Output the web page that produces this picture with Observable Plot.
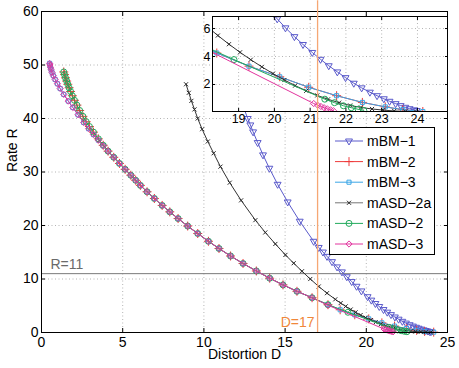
<!DOCTYPE html>
<html><head><meta charset="utf-8">
<script src="https://cdn.jsdelivr.net/npm/d3@7"></script>
<script src="https://cdn.jsdelivr.net/npm/@observablehq/plot@0.6"></script>
<style>
body{margin:0;background:#fff;}
#wrap{position:relative;width:459px;height:368px;overflow:hidden;font-family:"Liberation Sans",Arial,sans-serif;}
#wrap > svg{position:absolute;}
</style>
</head><body><div id="wrap"></div>
<script>
// ---------- data ----------
const seriesNames  = ["mBM\u22121","mBM\u22122","mBM\u22123","mASD\u22122a","mASD\u22122","mASD\u22123"];
const seriesColors = ["#5a5acb","#ee3a3a","#3aa6e6","#2a2a2a","#22aa5c","#e2349e"];
const seriesSymbols = ["triangle2","plus","square2","times","circle","diamond2"];
const seriesSizes = [3.3, 3, 2.6, 2, 3, 2.8];

const xTicks = [0,5,10,15,20,25];
const yTicks = [0,10,20,30,40,50,60];
const insetXTicks = [19,20,21,22,23,24];
const insetYTicks = [2,4,6];
const refR = 11, refD = 17;

const mBM1_D = [12.45,12.7,12.86,13.03,13.31,13.64,14.03,14.54,15.16,15.9,16.76,17.07,17.33,17.58,17.89,18.2,18.5,18.8,19.1,19.4,19.7,20.08,20.31,20.56,20.8,21.06,21.29,21.52,21.76,21.99,22.22,22.44,22.67,22.87,23.06,23.22,23.39,23.53,23.66,23.78,23.9,23.98];
const mBM1_R = [42.0,40.0,38.8,37.5,35.5,33.2,30.7,27.7,24.4,20.8,17.05,15.9,15.04,14.23,13.24,12.26,11.33,10.42,9.52,8.64,7.77,6.69,6.05,5.42,4.86,4.29,3.8,3.34,2.9,2.49,2.09,1.76,1.45,1.2,0.98,0.8,0.63,0.49,0.37,0.27,0.19,0.14];

const mASD2a_D = [8.9,9.07,9.23,9.42,9.62,9.89,10.24,10.6,11.02,11.59,12.29,13.17,13.78,14.4,15.02,15.53,16.04,16.55,17.07,17.58,18.09,18.42,18.73,19.04,19.34,19.65,19.96,20.28,20.58,20.89,21.2,21.5,21.81,22.12,22.42,22.73,23.04,23.35,23.66,23.97];
const mASD2a_R = [46.4,44.8,43.3,41.7,40.0,38.0,35.7,33.5,31.0,28.0,24.7,21.0,18.7,16.55,14.5,12.95,11.45,10.0,8.6,7.35,6.2,5.5,4.88,4.3,3.77,3.26,2.78,2.32,1.92,1.55,1.22,0.94,0.7,0.5,0.36,0.25,0.17,0.11,0.07,0.04];

// head of mBM-3 / mASD-3
const headA_D = [0.5,0.52,0.55,0.59,0.65,0.73,0.84,0.98,1.15,1.37,1.65,1.93,2.25,2.6,2.9,3.2,3.5,3.8];
const headA_R = [50.3,50.0,49.6,49.15,48.6,48.0,47.3,46.5,45.6,44.5,43.25,42.05,40.7,39.25,38.1,37.0,35.95,34.9];
// head of mBM-2 / mASD-2
const headB_D = [1.37,1.42,1.48,1.55,1.62,1.7,1.79,1.9,2.03,2.18,2.35,2.55,2.75,2.95,3.2,3.5,3.8];
const headB_R = [48.7,48.2,47.6,47.0,46.4,45.75,45.05,44.25,43.4,42.5,41.5,40.4,39.4,38.5,37.45,36.2,35.0];
// shared middle part
const common_D = [4.1,4.45,4.8,5.15,5.5,5.8,6.09,6.5,6.95,7.43,7.9,8.41,9.0,9.62,10.28,10.93,11.64,12.41,13.23,14.05,14.87,15.73,16.66];
const common_R = [33.9,32.75,31.6,30.5,29.4,28.45,27.5,26.3,25.05,23.75,22.55,21.3,19.9,18.5,17.05,15.7,14.3,12.9,11.5,10.15,8.9,7.7,6.5];
// tails
const tailBM_D = [17.64,18.39,19.29,20.15,20.96,21.74,22.46,23.1,23.59,24.15];
const tailBM_R = [5.2,4.25,3.31,2.55,1.8,1.2,0.72,0.4,0.2,0.07];
const tailASD2_D = [17.64,18.87,21.41,21.68,21.93,22.15,22.34,22.5];
const tailASD2_R = [5.2,3.78,0.95,0.7,0.48,0.34,0.23,0.15];
const tailASD3_D = [17.64,21.1,21.21,21.3,21.39,21.48,21.57,21.65];
const tailASD3_R = [5.1,0.64,0.52,0.43,0.34,0.26,0.19,0.13];

// ---------- build ----------
const rows = (D, R) => D.map((d, i) => ({D: d, R: R[i]}));
const series = [
  rows(mBM1_D, mBM1_R),
  rows([...headB_D, ...common_D, ...tailBM_D], [...headB_R, ...common_R, ...tailBM_R]),
  rows([...headA_D, ...common_D, ...tailBM_D], [...headA_R, ...common_R, ...tailBM_R]),
  rows(mASD2a_D, mASD2a_R),
  rows([...headB_D, ...common_D, ...tailASD2_D], [...headB_R, ...common_R, ...tailASD2_R]),
  rows([...headA_D, ...common_D, ...tailASD3_D], [...headA_R, ...common_R, ...tailASD3_R])
];

function seriesMarks(clip) {
  const out = [];
  series.forEach((data, i) => {
    out.push(Plot.line(data, {x: "D", y: "R", stroke: i === 3 ? "#333" : seriesColors[i], strokeWidth: 1, clip}));
    out.push(Plot.dot(data, {x: "D", y: "R", symbol: seriesSymbols[i], r: seriesSizes[i],
      stroke: seriesColors[i], fill: "none", strokeWidth: 1, rotate: i === 0 ? 180 : 0, clip}));
  });
  return out;
}

const FONT = '"Liberation Sans", Arial, Helvetica, sans-serif';
const gridStyle = {stroke: "#b4b4b4", strokeOpacity: 1, strokeDasharray: "1,2.5", strokeWidth: 1};

const main = Plot.plot({
  width: 459, height: 368,
  marginLeft: 41, marginRight: 12, marginTop: 11, marginBottom: 36,
  x: {domain: [0, 25], label: null},
  y: {domain: [0, 60], label: null},
  style: {fontFamily: FONT, fontSize: "14px", color: "black", background: "white"},
  marks: [
    Plot.gridX(xTicks.slice(1, -1), gridStyle),
    Plot.gridY(yTicks.slice(1, -1), gridStyle),
    Plot.ruleY([refR], {stroke: "#7a7a7a", strokeWidth: 1}),
    Plot.text([`R=${refR}`], {x: () => 0.55, y: () => refR, dy: -9, textAnchor: "start", fill: "#6a6a6a", fontSize: 14}),
    Plot.text([`D=${refD}`], {x: () => refD, y: () => 0, dx: -3, dy: -10, textAnchor: "end", fill: "#f0873a", fontSize: 14}),
    ...seriesMarks(false),
    Plot.axisX(xTicks, {anchor: "bottom", tickSize: -4, tickPadding: 9, label: null, fontSize: 14}),
    Plot.axisX(xTicks, {anchor: "top", tickSize: -4, tickFormat: () => "", label: null}),
    Plot.axisY(yTicks, {anchor: "left", tickSize: -4, tickPadding: 7, label: null, fontSize: 14}),
    Plot.axisY(yTicks, {anchor: "right", tickSize: -4, tickFormat: () => "", label: null}),
    Plot.frame({stroke: "black", strokeWidth: 1}),
    Plot.text(["Distortion D"], {frameAnchor: "bottom", dy: 26, fontSize: 14}),
    Plot.text(["Rate R"], {frameAnchor: "left", rotate: -90, dx: -29, fontSize: 14})
  ]
});
main.style.left = "0px"; main.style.top = "0px";

const inset = Plot.plot({
  width: 256, height: 113,
  marginLeft: 20, marginRight: 1, marginTop: 0, marginBottom: 18,
  x: {domain: [18.27, 24.84], label: null},
  y: {domain: [0.07, 6.86], label: null},
  style: {fontFamily: FONT, fontSize: "12.5px", color: "black", background: "transparent", overflow: "visible"},
  marks: [
    Plot.frame({fill: "white"}),
    Plot.gridX(insetXTicks, gridStyle),
    Plot.gridY(insetYTicks, gridStyle),
    ...seriesMarks(true),
    Plot.axisX(insetXTicks, {anchor: "bottom", tickSize: -3, tickPadding: 6, label: null, fontSize: 12.5}),
    Plot.axisX(insetXTicks, {anchor: "top", tickSize: -3, tickFormat: () => "", label: null}),
    Plot.axisY(insetYTicks, {anchor: "left", tickSize: -3, tickPadding: 5, label: null, fontSize: 12.5}),
    Plot.axisY(insetYTicks, {anchor: "right", tickSize: -3, tickFormat: () => "", label: null}),
    Plot.frame({stroke: "black", strokeWidth: 1})
  ]
});
inset.style.left = "192px"; inset.style.top = "16px";

const overlay = Plot.plot({
  width: 459, height: 368,
  marginLeft: 41, marginRight: 12, marginTop: 11, marginBottom: 36,
  x: {domain: [0, 25]}, y: {domain: [0, 60]},
  axis: null,
  style: {background: "transparent"},
  marks: [Plot.ruleX([refD], {y1: 0, y2: 62, stroke: "#f6a774", strokeWidth: 1.3})]
});
overlay.style.left = "0px"; overlay.style.top = "0px"; overlay.style.pointerEvents = "none";

// legend
const leg = d3.create("svg").attr("width", 108).attr("height", 130)
  .style("position", "absolute").style("left", "328px").style("top", "126px");
leg.append("rect").attr("x", 1.5).attr("y", 1.5).attr("width", 105).attr("height", 127)
  .attr("fill", "white").attr("stroke", "black");
const symMap = {triangle2: d3.symbolTriangle2, plus: d3.symbolPlus, square2: d3.symbolSquare2,
  times: d3.symbolTimes, circle: d3.symbolCircle, diamond2: d3.symbolDiamond2};
seriesNames.forEach((name, i) => {
  const y = 15 + i * 20.6;
  const g = leg.append("g");
  g.append("line").attr("x1", 7).attr("x2", 35).attr("y1", y).attr("y2", y)
    .attr("stroke", i === 3 ? "#777" : seriesColors[i]).attr("stroke-width", 1);
  g.append("path").attr("d", d3.symbol(symMap[seriesSymbols[i]], Math.PI * seriesSizes[i] ** 2)())
    .attr("transform", `translate(21,${y})${i === 0 ? " rotate(180)" : ""}`)
    .attr("fill", "none").attr("stroke", seriesColors[i]).attr("stroke-width", 1);
  g.append("text").attr("x", 39).attr("y", y).attr("dy", "0.36em")
    .attr("font-family", FONT).attr("font-size", 14).text(name);
});

const wrap = document.getElementById("wrap");
wrap.appendChild(main);
wrap.appendChild(inset);
wrap.appendChild(overlay);
wrap.appendChild(leg.node());
</script></body></html>
